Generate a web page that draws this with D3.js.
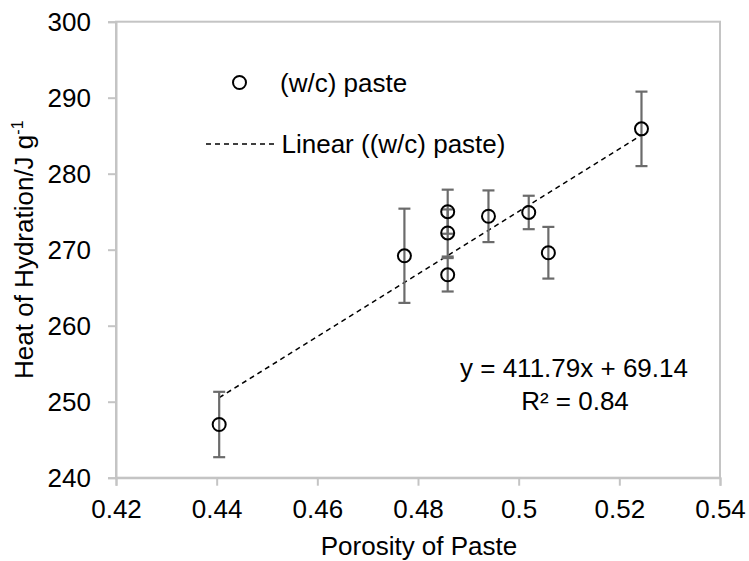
<!DOCTYPE html>
<html>
<head>
<meta charset="utf-8">
<script src="https://cdn.jsdelivr.net/npm/d3@7"></script>
<style>
  html, body { margin: 0; padding: 0; background: #fff; }
  svg { display: block; font-family: "Liberation Sans", Arial, sans-serif; }
</style>
</head>
<body>
<svg id="chart" width="749" height="561"></svg>
<script>
// ---- data ----
const porosity = [0.4405, 0.4773, 0.4859, 0.4859, 0.4859, 0.4940, 0.5020, 0.5059, 0.5244];
const heat     = [247.0, 269.2, 275.0, 272.2, 266.7, 274.4, 274.9, 269.6, 285.9];
const heatErr  = [4.3, 6.2, 2.9, 3.1, 2.2, 3.4, 2.2, 3.4, 4.9];
const trendSlope = 411.79;
const trendIntercept = 69.14;
const xTicks = [0.42, 0.44, 0.46, 0.48, 0.50, 0.52, 0.54];
const yTicks = [240, 250, 260, 270, 280, 290, 300];
const seriesName = "(w/c) paste";
const trendName = "Linear ((w/c) paste)";
const equationText = "y = 411.79x + 69.14";
const r2Text = "R² = 0.84";
const xTitle = "Porosity of Paste";

// ---- layout ----
const svg = d3.select("#chart");
const pLeft = 116, pRight = 720, pTop = 21.7, pBottom = 477.7;
const x = d3.scaleLinear().domain([0.42, 0.54]).range([pLeft, pRight]);
const y = d3.scaleLinear().domain([240, 300]).range([pBottom, pTop]);
const axisColor = "#c4c4c4";
const fs = 26;

// frame
svg.append("rect").attr("x", pLeft).attr("y", pTop)
  .attr("width", pRight - pLeft).attr("height", pBottom - pTop)
  .attr("fill", "none").attr("stroke", axisColor).attr("stroke-width", 2);

// x axis
const fmtX = d => String(+d.toFixed(2));
const xAxis = svg.append("g").attr("transform", `translate(0,${pBottom})`)
  .call(d3.axisBottom(x).tickValues(xTicks).tickSize(8).tickPadding(14).tickFormat(fmtX));
xAxis.select(".domain").attr("stroke", axisColor).attr("stroke-width", 2);
xAxis.selectAll(".tick line").attr("stroke", axisColor).attr("stroke-width", 2);
xAxis.selectAll(".tick text").attr("font-size", fs).attr("fill", "#000")
  .attr("font-family", "Liberation Sans, Arial, sans-serif");

// y axis
const yAxis = svg.append("g").attr("transform", `translate(${pLeft},0)`)
  .call(d3.axisLeft(y).tickValues(yTicks).tickSize(8).tickPadding(17).tickFormat(d3.format("d")));
yAxis.select(".domain").attr("stroke", axisColor).attr("stroke-width", 2);
yAxis.selectAll(".tick line").attr("stroke", axisColor).attr("stroke-width", 2);
yAxis.selectAll(".tick text").attr("font-size", fs).attr("fill", "#000")
  .attr("font-family", "Liberation Sans, Arial, sans-serif");

// axis titles
svg.append("text").attr("x", (pLeft + pRight) / 2 + 1).attr("y", 555)
  .attr("text-anchor", "middle").attr("font-size", fs).attr("fill", "#000").text(xTitle);

const yt = svg.append("text")
  .attr("transform", `translate(33,${(pTop + pBottom) / 2}) rotate(-90)`)
  .attr("text-anchor", "middle").attr("font-size", fs).attr("fill", "#000");
yt.append("tspan").text("Heat of Hydration/J g");
yt.append("tspan").attr("dy", -10).attr("font-size", 16).text("-1");

// trend line
const xMin = d3.min(porosity), xMax = d3.max(porosity);
svg.append("line")
  .attr("x1", x(xMin)).attr("y1", y(trendSlope * xMin + trendIntercept))
  .attr("x2", x(xMax)).attr("y2", y(trendSlope * xMax + trendIntercept))
  .attr("stroke", "#000").attr("stroke-width", 1.5).attr("stroke-dasharray", "5,4");

// error bars
const pts = porosity.map((p, i) => ({ p, h: heat[i], e: heatErr[i] }));
const eb = svg.append("g").attr("stroke", "#6b6b6b").attr("stroke-width", 2.2);
pts.forEach(d => {
  eb.append("line").attr("x1", x(d.p)).attr("x2", x(d.p))
    .attr("y1", y(d.h - d.e)).attr("y2", y(d.h + d.e));
  [d.h - d.e, d.h + d.e].forEach(v => {
    eb.append("line").attr("x1", x(d.p) - 6).attr("x2", x(d.p) + 6)
      .attr("y1", y(v)).attr("y2", y(v));
  });
});

// points
svg.append("g").selectAll("circle").data(pts).join("circle")
  .attr("cx", d => x(d.p)).attr("cy", d => y(d.h)).attr("r", 6.5)
  .attr("fill", "none").attr("stroke", "#000").attr("stroke-width", 2);

// legend
svg.append("circle").attr("cx", 239.5).attr("cy", 82.5).attr("r", 6.5)
  .attr("fill", "none").attr("stroke", "#000").attr("stroke-width", 2);
svg.append("text").attr("x", 280).attr("y", 91.5).attr("font-size", fs).attr("fill", "#000").text(seriesName);
svg.append("line").attr("x1", 206).attr("x2", 274).attr("y1", 144).attr("y2", 144)
  .attr("stroke", "#000").attr("stroke-width", 1.5).attr("stroke-dasharray", "5,4");
svg.append("text").attr("x", 281.5).attr("y", 153).attr("font-size", fs).attr("fill", "#000").text(trendName);

// equation
svg.append("text").attr("x", 574).attr("y", 377).attr("text-anchor", "middle")
  .attr("font-size", fs).attr("fill", "#000").text(equationText);
svg.append("text").attr("x", 575).attr("y", 410).attr("text-anchor", "middle")
  .attr("font-size", fs).attr("fill", "#000").text(r2Text);
</script>
</body>
</html>
